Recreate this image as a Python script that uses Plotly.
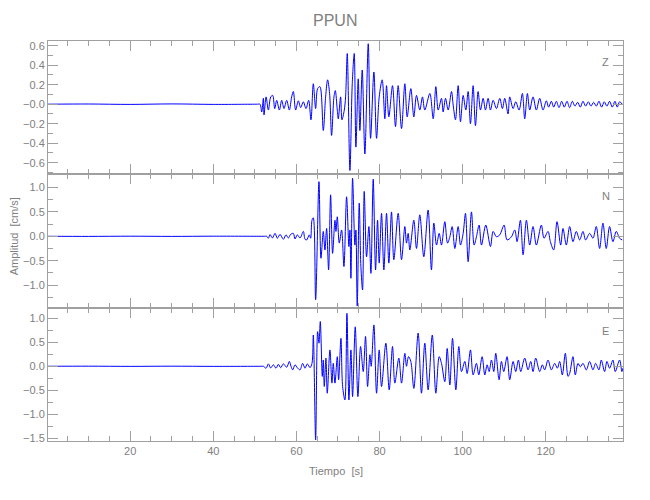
import plotly.graph_objects as go

# ---------------- data ----------------
station = "PPUN"
components = ["Z", "N", "E"]
y_ranges = {"Z": [-0.719, 0.648], "N": [-1.463, 1.27], "E": [-1.553, 1.218]}
x_range = [0.22, 138.6]

z_t = [0.22, 10, 20, 30, 40, 50.6, 51.25, 51.65, 52.05, 52.21, 52.7, 53.26, 53.82, 54.3, 54.78, 55.26,
       55.9, 56.46, 57.02, 57.66, 58.3, 58.86, 59.26, 59.82, 60.46, 61.03, 61.67, 62.31, 62.95,
       63.51, 64.07, 64.63, 65.11, 65.67, 66.47, 67.03, 67.51, 67.99, 68.47, 69.04, 69.36, 69.84,
       70.08, 70.64, 70.96, 71.52, 71.84, 72.24, 72.88, 73.44, 73.92, 74.32, 74.88, 75.28, 75.84,
       76.48, 77.29, 77.85, 78.65, 79.29, 79.93, 80.65, 81.29, 81.69, 82.25, 83.13, 83.85, 84.49,
       85.3, 86.1, 86.66, 87.54, 88.26, 88.9, 89.7, 90.34, 90.9, 92.12, 92.92, 93.56, 94.12, 94.92,
       95.32, 95.88, 96.53, 97.33, 97.73, 98.29, 98.93, 99.49, 100.13, 100.77, 101.33, 101.89,
       102.53, 103.09, 103.73, 104.3, 104.94, 105.5, 106.14, 106.7, 107.34, 108.14, 108.94, 109.58,
       110.14, 110.94, 111.34, 112.15, 112.79, 113.59, 114.39, 114.95, 115.59, 116.15, 116.95,
       117.75, 118.55, 119.35, 120.15, 120.7, 121.36, 121.92, 122.56, 123.2, 123.84, 124.48,
       125.12, 125.76, 126.4, 127.04, 127.68, 128.33, 128.97, 129.61, 130.25, 130.89, 131.53,
       132.17, 132.81, 133.45, 134.09, 134.73, 135.37, 136.02, 136.66, 137.22, 137.78, 138.42]
z_v = [0, 0.002, -0.002, 0.003, -0.002, 0, 0, -0.08, 0.06, -0.11, 0.075, -0.06, 0.075, 0.09, -0.045, 0.04,
       -0.06, 0.04, -0.045, 0.04, -0.06, 0.075, 0.13, -0.06, 0.035, -0.035, 0.025, -0.045, 0.04,
       -0.16, 0.21, -0.045, 0.16, 0.18, -0.27, 0.075, 0.25, 0.11, -0.32, 0.075, 0.14, -0.06,
       -0.15, 0.075, -0.16, -0.06, 0.075, 0.52, -0.68, 0.21, 0.52, -0.44, 0.26, -0.27, 0.35,
       -0.51, 0.62, -0.35, 0.33, -0.35, 0.075, 0.25, -0.15, 0.19, -0.13, 0.19, -0.23, 0.19,
       -0.25, 0.21, -0.13, 0.16, -0.13, 0.09, -0.06, 0.075, -0.06, 0.11, -0.15, 0.18, -0.06, 0.06,
       -0.08, 0.06, -0.06, 0.13, -0.01, -0.16, 0.19, -0.18, 0.09, -0.06, 0.13, -0.2,
       0.19, -0.22, 0.13, -0.06, 0.06, -0.06, 0.06, -0.06, 0.04, -0.045, 0.06, -0.045,
       0.06, -0.1, 0.075, -0.045, 0.025, -0.06, 0.11, -0.15, 0.11, -0.06, 0.075,
       -0.06, 0.06, -0.06, 0.035, -0.03, 0.03, -0.03, 0.03, -0.035, 0.03, -0.03,
       0.03, -0.035, 0.03, -0.02, 0.02, -0.03, 0.03, -0.02, 0.025, -0.02, 0.02,
       -0.02, 0.03, -0.03, 0.025, -0.02, 0.03, -0.03, 0.03, -0.03, 0.025, 0]

n_t = [0.22, 10, 20, 30, 40, 52.3, 52.86, 53.26, 53.66, 54.22, 54.86, 55.42, 56.06, 56.86, 57.5, 58.06,
       58.62, 59.26, 59.66, 60.22, 60.87, 61.67, 62.07, 62.47, 63.11, 63.43, 63.75, 64.07, 64.63,
       65.43, 65.91, 66.47, 66.87, 67.27, 67.75, 68.23, 68.71, 69.28, 69.52, 69.84, 70.32, 70.88,
       71.44, 72.08, 72.64, 72.88, 73.12, 73.52, 74.08, 74.32, 74.64, 75.12, 75.52, 75.92, 76.32,
       76.88, 77.45, 77.93, 78.49, 79.05, 79.53, 79.93, 80.49, 81.05, 81.69, 82.25, 82.89, 83.45,
       84.49, 85.3, 86.1, 86.5, 86.9, 87.3, 88.26, 88.9, 89.7, 90.66, 91.7, 92.5, 93.08, 93.72,
       94.36, 94.92, 95.72, 96.37, 96.93, 97.49, 98.13, 98.93, 99.49, 100.13, 100.69, 101.33,
       102.13, 102.77, 103.33, 103.97, 104.54, 105.58, 106.7, 107.34, 108.14, 108.94, 109.98,
       110.7, 111.75, 112.55, 113.11, 113.91, 114.55, 115.35, 116.15, 116.95, 117.75, 118.95,
       119.59, 120.56, 121.12, 121.92, 122.72, 123.6, 124.16, 124.96, 125.76, 126.56, 127.36,
       128.17, 128.97, 129.61, 130.57, 131.37, 132.17, 132.97, 133.77, 134.57, 135.37, 136.18,
       136.98, 137.78, 138.42]
n_v = [0, -0.002, 0.002, -0.002, 0.002, 0, 0, -0.04, 0.035, -0.035, 0.06, -0.04, 0.04, -0.06, 0.03, -0.035,
       0.04, 0.06, -0.055, 0.03, -0.035, 0.1, -0.06, -0.075, 0.03, -0.04, 0.33, 0.38, -1.3,
       1.12, -0.45, 0.1, -0.28, 0.16, -0.69, 0.85, -0.35, 0.33, 0.1, 0.4, -0.14, 0.13,
       -0.62, 0.81, -0.21, 0.13, -0.86, 1.19, -0.18, 0.13, -1.43, 0.68, -0.62, -1.1, 0.92,
       -0.42, 0.2, -0.76, 1.17, -0.69, 0.33, -0.55, 0.47, -0.69, 0.47, -0.55, 0.5, -0.48,
       0.47, -0.48, 0.2, -0.14, 0.06, -0.28, 0.33, -0.25, 0.44, -0.42, 0.54, -0.69, 0.27, -0.18,
       0.06, -0.18, 0.3, -0.14, -0.01, 0.2, -0.25, 0.2, -0.18, 0.06, 0.47, -0.52,
       0.5, -0.18, -0.01, 0.23, -0.18, 0.23, -0.21, 0.1, -0.01, 0.03, 0.23,
       -0.075, -0.01, 0.13, -0.11, 0.33, -0.38, 0.33, -0.18, 0.2, -0.18, 0.23,
       -0.04, 0.1, -0.11, -0.28, 0.3, -0.18, 0.16, -0.18, 0.2, -0.11, 0.1,
       -0.075, 0.1, -0.075, 0.06, -0.04, 0.2, -0.25, 0.27, -0.25, 0.2, -0.11,
       0.1, -0.04, -0.075]

e_t = [0.22, 10, 20, 30, 40, 51.5, 52.05, 52.7, 53.26, 53.82, 54.46, 55.1, 55.66, 56.22, 56.86, 57.66,
       58.3, 58.7, 59.1, 59.66, 60.22, 60.87, 61.5, 62.07, 62.63, 63.27, 63.75, 64.07, 64.63,
       65.11, 65.43, 65.75, 66.23, 66.47, 66.71, 67.11, 67.43, 68.07, 68.55, 68.87, 69.28, 69.84,
       70.16, 70.72, 71.12, 71.68, 72.16, 72.64, 73.12, 73.52, 74.16, 74.8, 75.44, 76.08, 76.64,
       77.13, 77.69, 78.0, 78.65, 79.29, 79.93, 80.49, 81.53, 82.33, 83.13, 83.69, 84.65, 85.3,
       86.1, 86.5, 86.98, 87.54, 88.26, 89.3, 90.1, 90.9, 91.7, 92.7, 93.56, 94.36, 94.92, 95.72,
       96.29, 96.93, 97.57, 98.37, 99.09, 99.73, 100.53, 101.09, 101.89, 102.53, 103.33, 103.89,
       104.7, 105.34, 105.9, 106.38, 106.94, 107.5, 107.98, 108.78, 109.34, 109.9, 110.7, 111.34,
       112.15, 112.79, 113.43, 113.99, 114.95, 115.75, 116.39, 116.95, 117.59, 118.55, 119.19,
       119.75, 120.56, 121.36, 122.16, 122.8, 123.36, 124.0, 124.72, 125.36, 125.76, 126.56,
       127.12, 127.76, 128.33, 128.97, 129.77, 130.57, 131.37, 132.01, 132.81, 133.37, 134.17,
       134.73, 135.37, 136.18, 136.74, 137.78, 138.34, 138.58]
e_v = [0, 0.002, -0.002, 0.002, -0.002, 0, 0, -0.04, 0.05, -0.035, 0.03, -0.04, 0.04, -0.03, 0.05, -0.02,
       0.1, 0, -0.075, 0.03, -0.03, -0.075, 0.06, -0.04, 0.05, -0.03, 0.06, 0.65, -1.53,
       0.72, 0.48, 0.93, -0.21, 0.13, -0.42, 0.17, -0.56, 0.34, -0.35, 0.06, -0.35, 0.2,
       -0.28, 0.58, -0.42, -0.7, 1.1, -0.7, 0.34, -0.63, 0.82, -0.63, 0.41, -0.11, 0.62,
       -0.42, 0.24, 0, 0.86, -0.56, 0.34, -0.42, 0.48, -0.49, 0.41, -0.35, 0.17, -0.35,
       0.27, 0, 0.2, 0.1, -0.46, 0.69, -0.56, 0.48, -0.49, 0.65, -0.56, 0.2, 0.06, -0.32,
       0.37, -0.39, 0.58, -0.49, 0.41, -0.11, 0.1, -0.15, 0.34, -0.18, 0.06, -0.18,
       0.2, -0.18, 0.03, -0.11, 0.13, -0.11, 0.27, -0.28, 0.1, -0.11, 0.2, -0.28,
       0.1, -0.11, 0.13, -0.11, 0.17, -0.075, 0.1, -0.11, 0.17, -0.11, 0.03,
       -0.075, 0.13, -0.075, 0.06, -0.04, 0.1, -0.18, 0.27, -0.21, -0.15, 0.2,
       -0.18, 0.06, -0.01, 0.06, -0.075, 0.1, -0.075, 0.06, -0.075, 0.13, -0.11,
       0.1, -0.04, 0.13, -0.11, 0.13, -0.11, -0.04]

series = {"Z": (z_t, z_v), "N": (n_t, n_v), "E": (e_t, e_v)}

y_tickvals = {
    "Z": [-0.6, -0.4, -0.2, 0.0, 0.2, 0.4, 0.6],
    "N": [-1.0, -0.5, 0.0, 0.5, 1.0],
    "E": [-1.5, -1.0, -0.5, 0.0, 0.5, 1.0],
}
y_ticktext = {
    "Z": ["\u22120.6", "\u22120.4", "\u22120.2", "\u22120.0", "0.2", "0.4", "0.6"],
    "N": ["\u22121.0", "\u22120.5", "0.0", "0.5", "1.0"],
    "E": ["\u22121.5", "\u22121.0", "\u22120.5", "0.0", "0.5", "1.0"],
}
y_minor = {"Z": 0.1, "N": 0.25, "E": 0.25}
x_tickvals = [20, 40, 60, 80, 100, 120]

title_text = "PPUN"
x_title = "Tiempo\u00a0\u00a0[s]"
y_title = "Amplitud\u00a0\u00a0[cm/s]"

# ---------------- figure ----------------
AX = "#a0a0a0"
TXT = "#808080"
FONT = "Liberation Sans"

fig = go.Figure()
domains = {"Z": [2 / 3, 1.0], "N": [1 / 3, 2 / 3], "E": [0.0, 1 / 3]}

# the page body adds an 8 px offset, so margins are reduced by 8 px on left/top
layout = dict(
    width=650, height=500,
    margin=dict(l=40, r=35, t=33, b=67, autoexpand=False),
    paper_bgcolor="white", plot_bgcolor="white",
    showlegend=False,
    font=dict(family=FONT, color=TXT, size=11),
)

for i, comp in enumerate(components):
    k = "" if i == 0 else str(i + 1)
    t, v = series[comp]
    fig.add_trace(go.Scatter(
        x=t, y=v, mode="lines",
        line=dict(color="#0000ff", width=1, shape="spline", smoothing=0.9),
        xaxis="x" + k, yaxis="y" + k, hoverinfo="skip",
    ))
    last = comp == components[-1]
    layout["xaxis" + k] = dict(
        domain=[0, 1], anchor="y" + k, range=x_range, automargin=False,
        showline=True, linecolor=AX, linewidth=1, mirror="allticks",
        ticks="inside", ticklen=10, tickcolor=AX, tickwidth=1,
        tickvals=x_tickvals, showticklabels=last,
        tickfont=dict(family=FONT, size=11, color=TXT),
        minor=dict(ticks="inside", ticklen=5, dtick=5, tick0=0, tickcolor=AX, showgrid=False),
        showgrid=False, zeroline=False,
    )
    if i > 0:
        layout["xaxis" + k]["matches"] = "x"
    layout["yaxis" + k] = dict(
        domain=domains[comp], anchor="x" + k, range=y_ranges[comp], automargin=False,
        showline=True, linecolor=AX, linewidth=1, mirror="allticks",
        ticks="inside", ticklen=10, tickcolor=AX, tickwidth=1,
        tickvals=y_tickvals[comp], ticktext=y_ticktext[comp],
        tickfont=dict(family=FONT, size=11, color=TXT),
        minor=dict(ticks="inside", ticklen=5, dtick=y_minor[comp], tick0=0, tickcolor=AX, showgrid=False),
        showgrid=False, zeroline=False,
    )

common = dict(xref="paper", yref="paper", showarrow=False, xanchor="center", yanchor="middle")
annotations = [
    dict(text=title_text, x=0.4994, y=1.0525, font=dict(family=FONT, size=16, color=TXT), **common),
    dict(text=x_title, x=0.5, y=-0.075, font=dict(family=FONT, size=11, color=TXT), **common),
    dict(text=y_title, x=-0.0585, y=0.5125, textangle=-90,
         font=dict(family=FONT, size=11, color=TXT), **common),
]
label_y = {"Z": 0.9475, "N": 0.6125, "E": 0.275}
for comp in components:
    annotations.append(dict(text=comp, x=0.97, y=label_y[comp],
                            font=dict(family=FONT, size=11, color=TXT), **common))
layout["annotations"] = annotations

fig.update_layout(**layout)
fig.write_html("out.html")
